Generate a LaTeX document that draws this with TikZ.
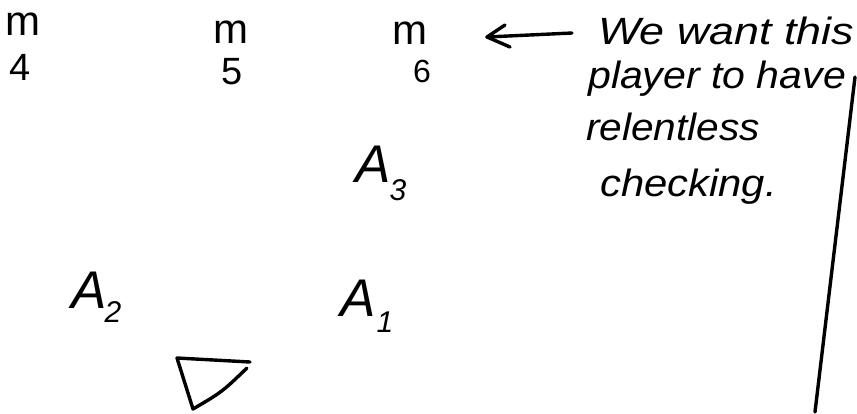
\documentclass[tikz,border=0pt]{standalone}
\usepackage{fontspec}
\setmainfont{Liberation Sans}
\begin{document}
\begin{tikzpicture}[x=1pt,y=-1pt,
  ink/.style={line width=3.4pt, line cap=round, line join=round},
  mlabel/.style={anchor=base west, inner sep=0pt, font=\fontsize{42}{48}\selectfont},
  numlabel/.style={anchor=base west, inner sep=0pt, font=\fontsize{38}{44}\selectfont},
  alabel/.style={anchor=base west, inner sep=0pt, font=\fontsize{53}{60}\selectfont\itshape},
  note/.style={anchor=base west, inner sep=0pt, font=\fontsize{38}{44}\selectfont\itshape}]
\useasboundingbox (0,0) rectangle (857,413);
% players m
\node[mlabel] (m4) at (5,35) {m};
\node[numlabel] (n4) at (9,80) {4};
\node[mlabel] (m5) at (213,43) {m};
\node[numlabel] (n5) at (221,84) {5};
\node[mlabel] (m6) at (392,44) {m};
\node[numlabel] (n6) at (413,82) {\fontsize{32}{36}\selectfont 6};
% A players
\node[alabel] (a3) at (355,182) {A\kern-1pt{\fontsize{30}{30}\selectfont\raisebox{-18pt}{3}}};
\node[alabel] (a2) at (71,308) {A\kern-2pt{\fontsize{30}{30}\selectfont\raisebox{-14pt}{2}}};
\node[alabel] (a1) at (340,316) {A\kern1pt{\fontsize{30}{30}\selectfont\raisebox{-16pt}{1}}};
% note
\node[note, xscale=1.18] (t1) at (598,44) {We want this};
\node[note, xscale=1.08] (t2) at (588,88) {player to have};
\node[note, xscale=1.07] (t3) at (586,140) {relentless};
\node[note, xscale=1.1] (t4) at (600,196) {checking.};
% arrow
\coordinate (arrstart) at (572,33);
\coordinate (arrtip) at (487,37);
\draw[ink] (arrstart) -- (arrtip);
\draw[ink] (505,25) -- (arrtip) -- (510,47);
% vertical line
\coordinate (vtop) at (855,77);
\coordinate (vbot) at (815,412);
\draw[ink] (vtop) -- (vbot);
% triangle
\coordinate (tl) at (177,358);
\coordinate (tr) at (250,362);
\coordinate (tb) at (193,409);
\draw[ink] (tr) -- (tl) -- (tb) .. controls (222,392) .. (247,368);
\end{tikzpicture}
\end{document}
